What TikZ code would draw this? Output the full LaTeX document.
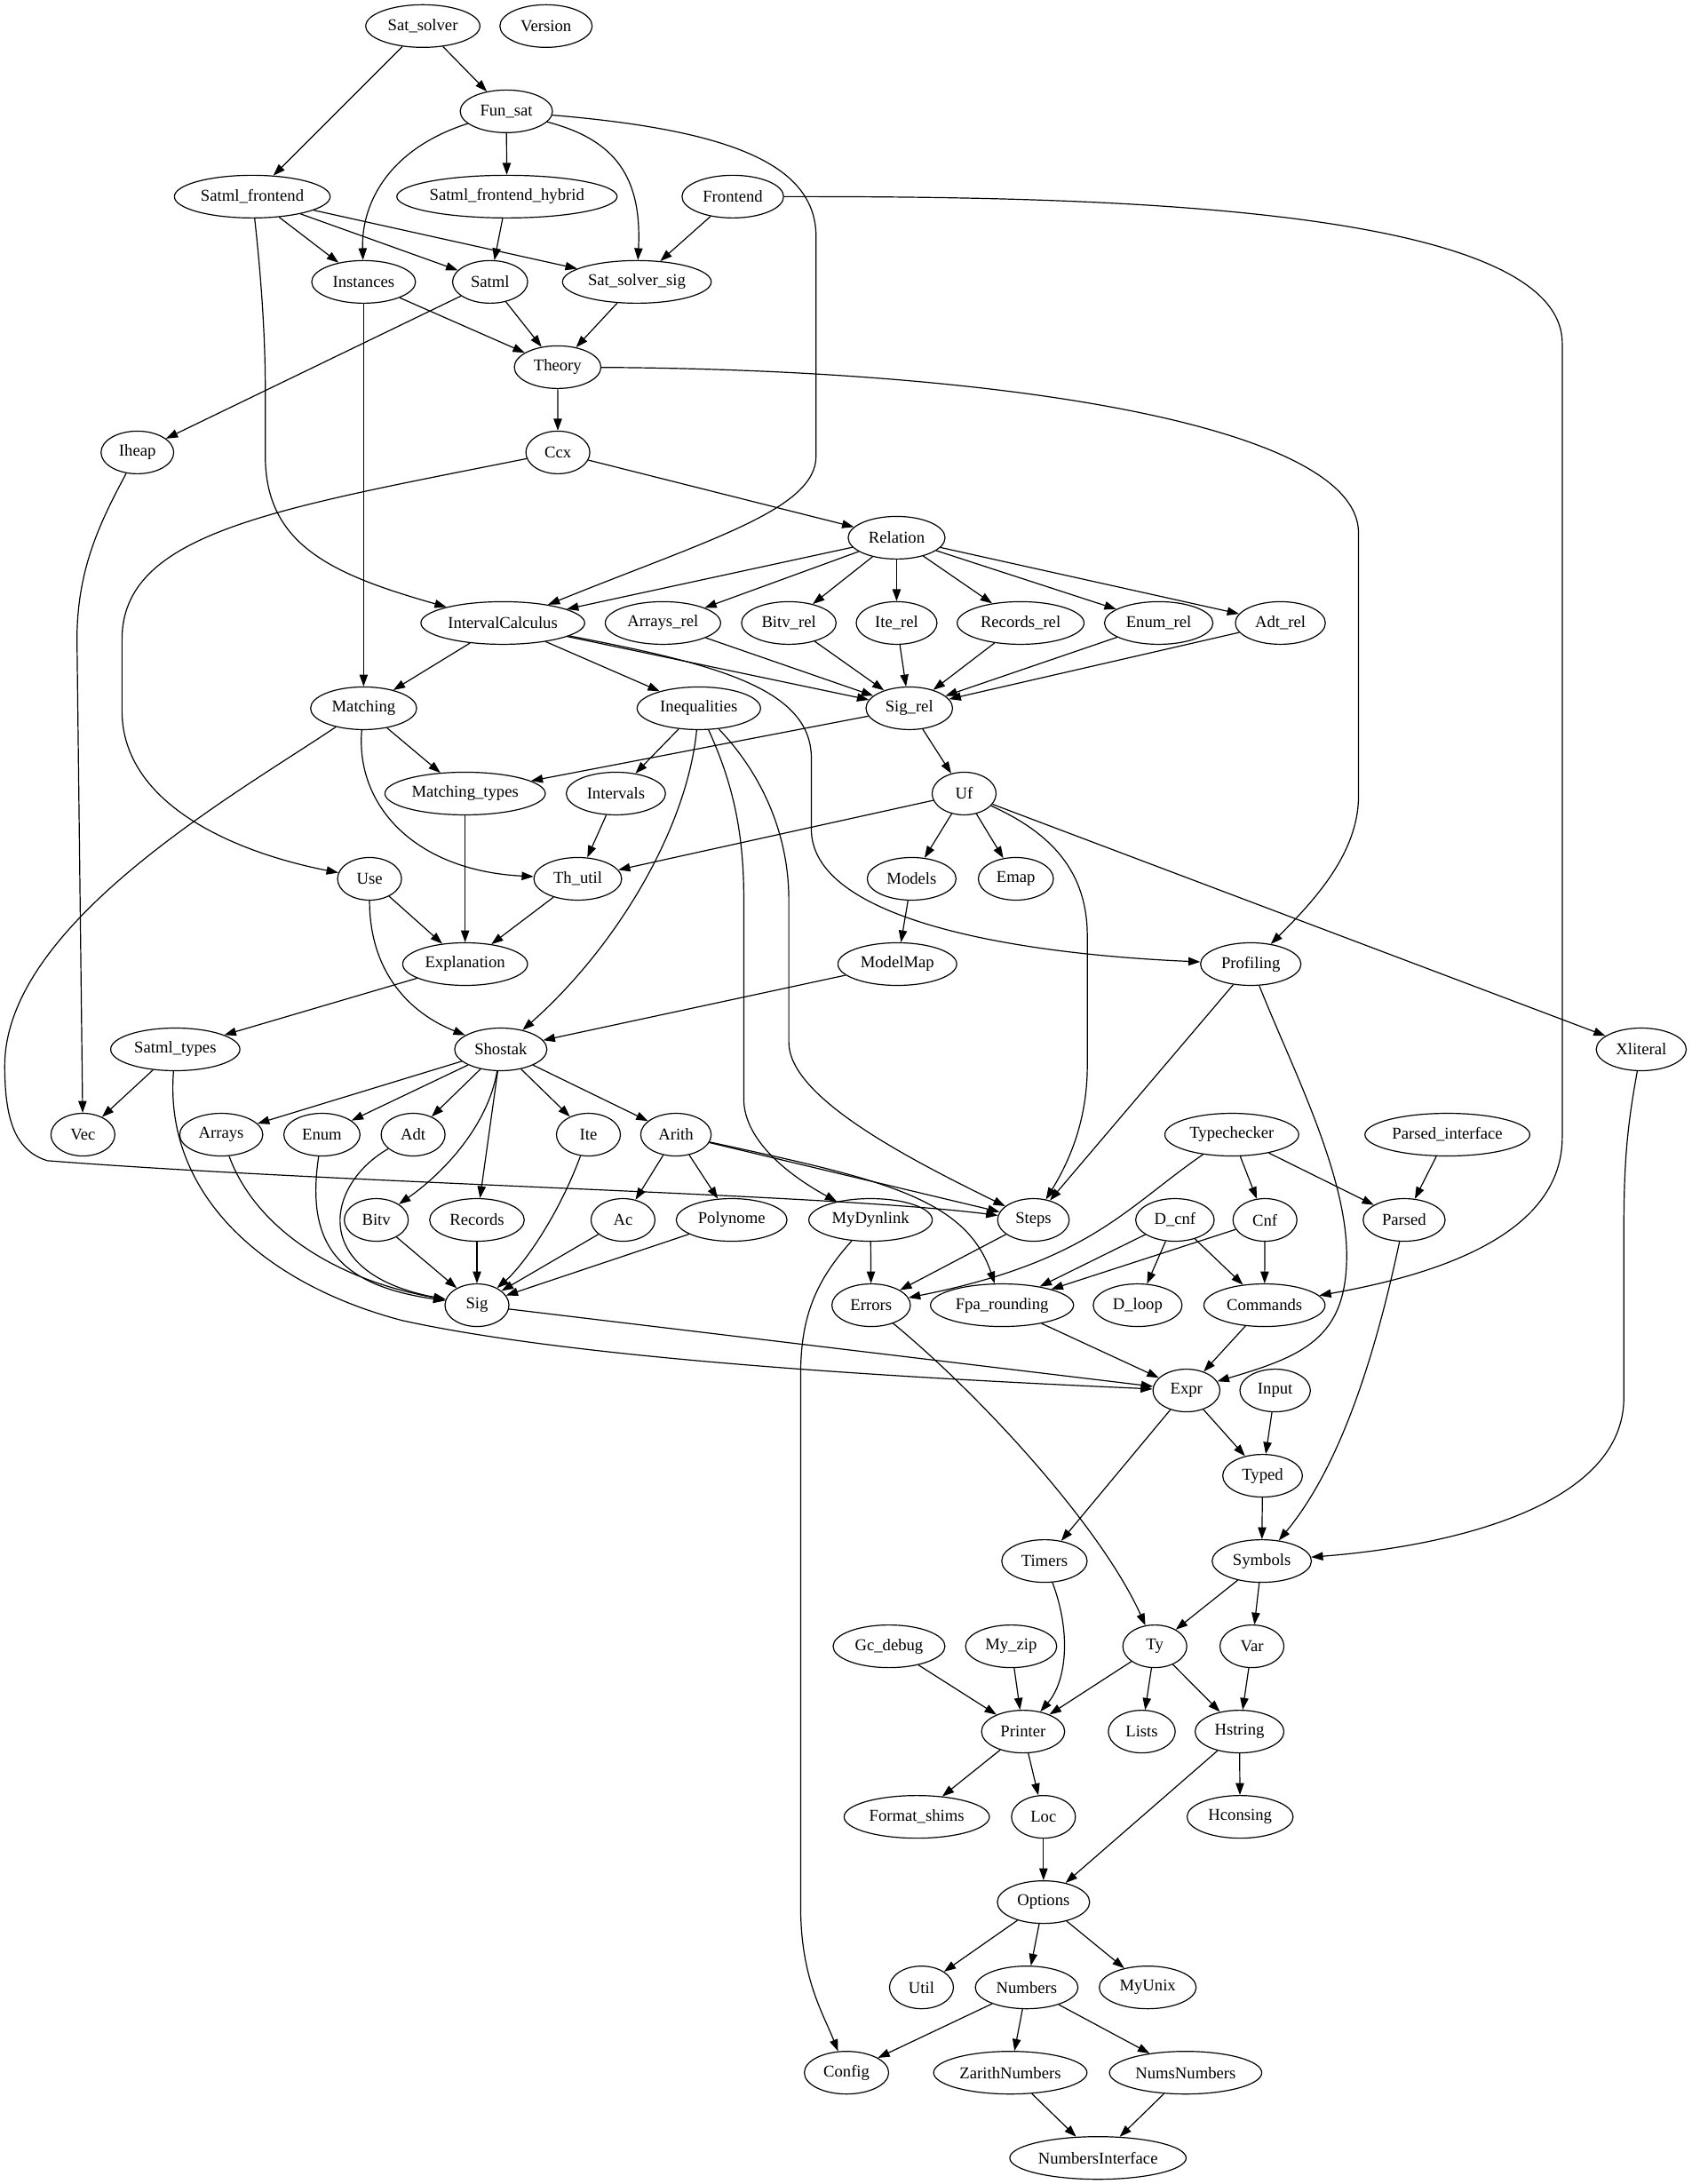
\documentclass[tikz,border=0pt]{standalone}
\usepackage{fontspec}
\setmainfont{Liberation Serif}
\usetikzlibrary{shapes.geometric,arrows.meta}
\newcommand\gvfont{\fontsize{14pt}{16pt}\selectfont}
\begin{document}
\begin{tikzpicture}[x=1pt,y=-1pt,
  gv/.style={draw, ellipse, line width=0.9pt, inner sep=0pt, minimum height=36pt, font=\gvfont},
  conn/.style={draw, line width=0.9pt, -{Triangle[length=10pt,width=7pt]}}]
\fill[white] (0,0) rectangle (1428,1844);
\useasboundingbox (0,0) rectangle (1428,1844);
% rank 0-6
\node[gv,minimum width=96.4pt] (Sat_solver) at (357,22) {Sat\_solver};
\node[gv,minimum width=77.9pt] (Version) at (461,22) {Version};
\node[gv,minimum width=77.9pt] (Fun_sat) at (427.5,94) {Fun\_sat};
\node[gv,minimum width=131.5pt] (Satml_frontend) at (213,166) {Satml\_frontend};
\node[gv,minimum width=186pt] (Satml_frontend_hybrid) at (428,166) {Satml\_frontend\_hybrid};
\node[gv,minimum width=85.8pt] (Frontend) at (618.7,166) {Frontend};
\node[gv,minimum width=87.7pt] (Instances) at (307,238) {Instances};
\node[gv,minimum width=63.4pt] (Satml) at (413.8,238) {Satml};
\node[gv,minimum width=125.6pt] (Sat_solver_sig) at (537.7,238) {Sat\_solver\_sig};
\node[gv,minimum width=73.1pt] (Theory) at (470.8,310) {Theory};
\node[gv,minimum width=61.4pt] (Iheap) at (116,382) {Iheap};
\node[gv,minimum width=54pt] (Ccx) at (471,382) {Ccx};
\node[gv,minimum width=81.8pt] (Relation) at (757,454) {Relation};
% rank 7
\node[gv,minimum width=138.3pt] (IntervalCalculus) at (424.5,526) {IntervalCalculus};
\node[gv,minimum width=97.4pt] (Arrays_rel) at (559.7,526) {Arrays\_rel};
\node[gv,minimum width=79.9pt] (Bitv_rel) at (666,526) {Bitv\_rel};
\node[gv,minimum width=68.2pt] (Ite_rel) at (757,526) {Ite\_rel};
\node[gv,minimum width=107.1pt] (Records_rel) at (861.7,526) {Records\_rel};
\node[gv,minimum width=91.6pt] (Enum_rel) at (978.3,526) {Enum\_rel};
\node[gv,minimum width=76pt] (Adt_rel) at (1081,526) {Adt\_rel};
% rank 8-12
\node[gv,minimum width=89.6pt] (Matching) at (307,598) {Matching};
\node[gv,minimum width=104.2pt] (Inequalities) at (590,598) {Inequalities};
\node[gv,minimum width=73.1pt] (Sig_rel) at (767.7,598) {Sig\_rel};
\node[gv,minimum width=135.4pt] (Matching_types) at (392.7,670) {Matching\_types};
\node[gv,minimum width=83.8pt] (Intervals) at (520,670) {Intervals};
\node[gv,minimum width=54pt] (Uf) at (814,670) {Uf};
\node[gv,minimum width=54pt] (Use) at (312,742) {Use};
\node[gv,minimum width=74.1pt] (Th_util) at (487.8,742) {Th\_util};
\node[gv,minimum width=75pt] (Models) at (769.7,742) {Models};
\node[gv,minimum width=63.4pt] (Emap) at (857.7,742) {Emap};
\node[gv,minimum width=105.4pt] (Explanation) at (392.7,814) {Explanation};
\node[gv,minimum width=100.3pt] (ModelMap) at (757.6,814) {ModelMap};
\node[gv,minimum width=84.8pt] (Profiling) at (1056,814) {Profiling};
\node[gv,minimum width=109.1pt] (Satml_types) at (148,886) {Satml\_types};
\node[gv,minimum width=77.9pt] (Shostak) at (422.8,886) {Shostak};
\node[gv,minimum width=76pt] (Xliteral) at (1385.7,886) {Xliteral};
% rank 13
\node[gv,minimum width=54pt] (Vec) at (70,958) {Vec};
\node[gv,minimum width=70.2pt] (Arrays) at (186.8,958) {Arrays};
\node[gv,minimum width=64.3pt] (Enum) at (271.8,958) {Enum};
\node[gv,minimum width=54pt] (Adt) at (348.8,958) {Adt};
\node[gv,minimum width=54pt] (Ite) at (496.8,958) {Ite};
\node[gv,minimum width=59.5pt] (Arith) at (570.7,958) {Arith};
\node[gv,minimum width=113pt] (Typechecker) at (1040,958) {Typechecker};
\node[gv,minimum width=139.2pt] (Parsed_interface) at (1222,958) {Parsed\_interface};
% rank 14
\node[gv,minimum width=54pt] (Bitv) at (317.7,1030) {Bitv};
\node[gv,minimum width=79.9pt] (Records) at (402.7,1030) {Records};
\node[gv,minimum width=54pt] (Ac) at (526,1030) {Ac};
\node[gv,minimum width=93.6pt] (Polynome) at (617.7,1030) {Polynome};
\node[gv,minimum width=104.2pt] (MyDynlink) at (735,1030) {MyDynlink};
\node[gv,minimum width=60.4pt] (Steps) at (872.5,1030) {Steps};
\node[gv,minimum width=66.3pt] (D_cnf) at (992,1030) {D\_cnf};
\node[gv,minimum width=54pt] (Cnf) at (1068,1030) {Cnf};
\node[gv,minimum width=69.2pt] (Parsed) at (1185.5,1030) {Parsed};
% rank 15
\node[gv,minimum width=54pt] (Sig) at (402.7,1102) {Sig};
\node[gv,minimum width=66.3pt] (Errors) at (735.5,1102) {Errors};
\node[gv,minimum width=120.8pt] (Fpa_rounding) at (846,1102) {Fpa\_rounding};
\node[gv,minimum width=75pt] (D_loop) at (960.5,1102) {D\_loop};
\node[gv,minimum width=102.3pt] (Commands) at (1067.6,1102) {Commands};
% rank 16-25
\node[gv,minimum width=56.5pt] (Expr) at (1001.7,1174) {Expr};
\node[gv,minimum width=59.5pt] (Input) at (1076.6,1174) {Input};
\node[gv,minimum width=67.3pt] (Typed) at (1066,1246) {Typed};
\node[gv,minimum width=72.1pt] (Timers) at (881.8,1318) {Timers};
\node[gv,minimum width=83.8pt] (Symbols) at (1065.3,1318) {Symbols};
\node[gv,minimum width=94.5pt] (Gc_debug) at (750.6,1390) {Gc\_debug};
\node[gv,minimum width=77pt] (My_zip) at (853.7,1390) {My\_zip};
\node[gv,minimum width=54pt] (Ty) at (975,1390) {Ty};
\node[gv,minimum width=54pt] (Var) at (1057,1390) {Var};
\node[gv,minimum width=70.2pt] (Printer) at (863.8,1462) {Printer};
\node[gv,minimum width=56.5pt] (Lists) at (964,1462) {Lists};
\node[gv,minimum width=75pt] (Hstring) at (1046.5,1462) {Hstring};
\node[gv,minimum width=122.7pt] (Format_shims) at (774,1534) {Format\_shims};
\node[gv,minimum width=54pt] (Loc) at (881,1534) {Loc};
\node[gv,minimum width=89.6pt] (Hconsing) at (1047,1534) {Hconsing};
\node[gv,minimum width=77.9pt] (Options) at (881,1606) {Options};
\node[gv,minimum width=54pt] (Util) at (778,1678) {Util};
\node[gv,minimum width=86.7pt] (Numbers) at (866.8,1678) {Numbers};
\node[gv,minimum width=81.8pt] (MyUnix) at (969,1678) {MyUnix};
\node[gv,minimum width=71.2pt] (Config) at (714.7,1750) {Config};
\node[gv,minimum width=129.5pt] (ZarithNumbers) at (853,1750) {ZarithNumbers};
\node[gv,minimum width=128.6pt] (NumsNumbers) at (1001,1750) {NumsNumbers};
\node[gv,minimum width=148.9pt] (NumbersInterface) at (927,1822) {NumbersInterface};

% straight connectors
\draw[conn] (Sat_solver) -- (Fun_sat);
\draw[conn] (Sat_solver) -- (Satml_frontend);
\draw[conn] (Fun_sat) -- (Satml_frontend_hybrid);
\draw[conn] (Satml_frontend) -- (Instances);
\draw[conn] (Satml_frontend) -- (Satml);
\draw[conn] (Satml_frontend) -- (Sat_solver_sig);
\draw[conn] (Satml_frontend_hybrid) -- (Satml);
\draw[conn] (Frontend) -- (Sat_solver_sig);
\draw[conn] (Instances) -- (Theory);
\draw[conn] (Instances) -- (Matching);
\draw[conn] (Satml) -- (Theory);
\draw[conn] (Satml) -- (Iheap);
\draw[conn] (Sat_solver_sig) -- (Theory);
\draw[conn] (Theory) -- (Ccx);
\draw[conn] (Ccx) -- (Relation);
\draw[conn] (Relation) -- (IntervalCalculus);
\draw[conn] (Relation) -- (Arrays_rel);
\draw[conn] (Relation) -- (Bitv_rel);
\draw[conn] (Relation) -- (Ite_rel);
\draw[conn] (Relation) -- (Records_rel);
\draw[conn] (Relation) -- (Enum_rel);
\draw[conn] (Relation) -- (Adt_rel);
\draw[conn] (IntervalCalculus) -- (Matching);
\draw[conn] (IntervalCalculus) -- (Inequalities);
\draw[conn] (IntervalCalculus) -- (Sig_rel);
\draw[conn] (Arrays_rel) -- (Sig_rel);
\draw[conn] (Bitv_rel) -- (Sig_rel);
\draw[conn] (Ite_rel) -- (Sig_rel);
\draw[conn] (Records_rel) -- (Sig_rel);
\draw[conn] (Enum_rel) -- (Sig_rel);
\draw[conn] (Adt_rel) -- (Sig_rel);
\draw[conn] (Matching) -- (Matching_types);
\draw[conn] (Inequalities) -- (Intervals);
\draw[conn] (Sig_rel) -- (Uf);
\draw[conn] (Sig_rel) -- (Matching_types);
\draw[conn] (Matching_types) -- (Explanation);
\draw[conn] (Intervals) -- (Th_util);
\draw[conn] (Uf) -- (Th_util);
\draw[conn] (Uf) -- (Models);
\draw[conn] (Uf) -- (Emap);
\draw[conn] (Uf) -- (Xliteral);
\draw[conn] (Use) -- (Explanation);
\draw[conn] (Th_util) -- (Explanation);
\draw[conn] (Models) -- (ModelMap);
\draw[conn] (Explanation) -- (Satml_types);
\draw[conn] (ModelMap) -- (Shostak);
\draw[conn] (Profiling) -- (Steps);
\draw[conn] (Satml_types) -- (Vec);
\draw[conn] (Shostak) -- (Arrays);
\draw[conn] (Shostak) -- (Enum);
\draw[conn] (Shostak) -- (Adt);
\draw[conn] (Shostak) -- (Ite);
\draw[conn] (Shostak) -- (Arith);
\draw[conn] (Shostak) -- (Records);
\draw[conn] (Bitv) -- (Sig);
\draw[conn] (Records) -- (Sig);
\draw[conn] (Ac) -- (Sig);
\draw[conn] (Polynome) -- (Sig);
\draw[conn] (Arith) -- (Ac);
\draw[conn] (Arith) -- (Polynome);
\draw[conn] (Arith) -- (Steps);
\draw[conn] (Typechecker) -- (Cnf);
\draw[conn] (Typechecker) -- (Parsed);
\draw[conn] (Parsed_interface) -- (Parsed);
\draw[conn] (MyDynlink) -- (Errors);
\draw[conn] (Steps) -- (Errors);
\draw[conn] (D_cnf) -- (Fpa_rounding);
\draw[conn] (D_cnf) -- (D_loop);
\draw[conn] (D_cnf) -- (Commands);
\draw[conn] (Cnf) -- (Fpa_rounding);
\draw[conn] (Cnf) -- (Commands);
\draw[conn] (Sig) -- (Expr);
\draw[conn] (Fpa_rounding) -- (Expr);
\draw[conn] (Commands) -- (Expr);
\draw[conn] (Expr) -- (Typed);
\draw[conn] (Expr) -- (Timers);
\draw[conn] (Input) -- (Typed);
\draw[conn] (Typed) -- (Symbols);
\draw[conn] (Symbols) -- (Ty);
\draw[conn] (Symbols) -- (Var);
\draw[conn] (Gc_debug) -- (Printer);
\draw[conn] (My_zip) -- (Printer);
\draw[conn] (Ty) -- (Printer);
\draw[conn] (Ty) -- (Lists);
\draw[conn] (Ty) -- (Hstring);
\draw[conn] (Var) -- (Hstring);
\draw[conn] (Printer) -- (Format_shims);
\draw[conn] (Printer) -- (Loc);
\draw[conn] (Hstring) -- (Hconsing);
\draw[conn] (Hstring) -- (Options);
\draw[conn] (Loc) -- (Options);
\draw[conn] (Options) -- (Util);
\draw[conn] (Options) -- (Numbers);
\draw[conn] (Options) -- (MyUnix);
\draw[conn] (Numbers) -- (Config);
\draw[conn] (Numbers) -- (ZarithNumbers);
\draw[conn] (Numbers) -- (NumsNumbers);
\draw[conn] (ZarithNumbers) -- (NumbersInterface);
\draw[conn] (NumsNumbers) -- (NumbersInterface);

% curved connectors
\draw[conn] (Fun_sat) .. controls (330,125) and (305,170) .. (Instances);
\draw[conn] (Fun_sat) .. controls (520,118) and (542,150) .. (Sat_solver_sig);
\draw[conn] (Fun_sat) .. controls (620,110) and (689,140) .. (689,200) -- (689,385) .. controls (689,430) and (600,455) .. (IntervalCalculus);
\draw[conn] (Satml_frontend) .. controls (220,230) and (224,280) .. (224,330) -- (224,385) .. controls (224,460) and (280,485) .. (IntervalCalculus);
\draw[conn] (Frontend) .. controls (900,166) and (1319,170) .. (1319,290) -- (1319,960) .. controls (1319,1040) and (1220,1075) .. (Commands);
\draw[conn] (Theory) .. controls (850,312) and (1147,360) .. (1147,450) -- (1147,672) .. controls (1147,720) and (1110,760) .. (Profiling);
\draw[conn] (Iheap) .. controls (85,440) and (65,480) .. (65,540) -- (Vec);
\draw[conn] (Ccx) .. controls (230,430) and (103,450) .. (103,540) -- (103,600) .. controls (103,680) and (200,720) .. (Use);
\draw[conn] (Matching) .. controls (300,680) and (350,735) .. (Th_util);
\draw[conn] (Matching) .. controls (200,670) and (4,780) .. (4,900) .. controls (4,950) and (15,972) .. (40,980) .. controls (300,1000) and (700,1008) .. (Steps);
\draw[conn] (Inequalities) .. controls (580,700) and (520,800) .. (Shostak);
\draw[conn] (Inequalities) .. controls (618,660) and (628,700) .. (628,760) -- (628,930) .. controls (630,970) and (680,1000) .. (MyDynlink);
\draw[conn] (Inequalities) .. controls (640,650) and (666,700) .. (666,760) -- (666,880) .. controls (666,925) and (760,975) .. (Steps);
\draw[conn] (IntervalCalculus) .. controls (600,560) and (685,580) .. (685,640) -- (685,700) .. controls (685,775) and (850,805) .. (Profiling);
\draw[conn] (Uf) .. controls (880,700) and (918,730) .. (918,790) -- (918,900) .. controls (918,950) and (900,985) .. (Steps);
\draw[conn] (Profiling) .. controls (1090,900) and (1137,990) .. (1137,1060) .. controls (1137,1130) and (1100,1145) .. (Expr);
\draw[conn] (Satml_types) .. controls (138,1010) and (225,1085) .. (340,1115) .. controls (500,1150) and (800,1165) .. (Expr);
\draw[conn] (Xliteral) .. controls (1374,950) and (1371,980) .. (1371,1040) -- (1371,1180) .. controls (1371,1270) and (1230,1305) .. (Symbols);
\draw[conn] (Parsed) .. controls (1160,1150) and (1130,1240) .. (Symbols);
\draw[conn] (Errors) .. controls (830,1180) and (930,1290) .. (Ty);
\draw[conn] (Timers) .. controls (905,1380) and (900,1420) .. (Printer);
\draw[conn] (MyDynlink) .. controls (690,1080) and (676,1110) .. (676,1160) -- (676,1610) .. controls (676,1670) and (695,1700) .. (Config);
\draw[conn] (Use) .. controls (312,820) and (345,855) .. (Shostak);
\draw[conn] (Shostak) .. controls (412,950) and (375,990) .. (Bitv);
\draw[conn] (Adt) .. controls (275,1000) and (260,1075) .. (Sig);
\draw[conn] (Enum) .. controls (258,1050) and (285,1085) .. (Sig);
\draw[conn] (Arrays) .. controls (215,1035) and (280,1080) .. (Sig);
\draw[conn] (Ite) .. controls (470,1030) and (440,1070) .. (Sig);
\draw[conn] (Arith) .. controls (740,995) and (815,1010) .. (Fpa_rounding);
\draw[conn] (Typechecker) .. controls (950,1020) and (920,1065) .. (Errors);
\end{tikzpicture}
\end{document}
